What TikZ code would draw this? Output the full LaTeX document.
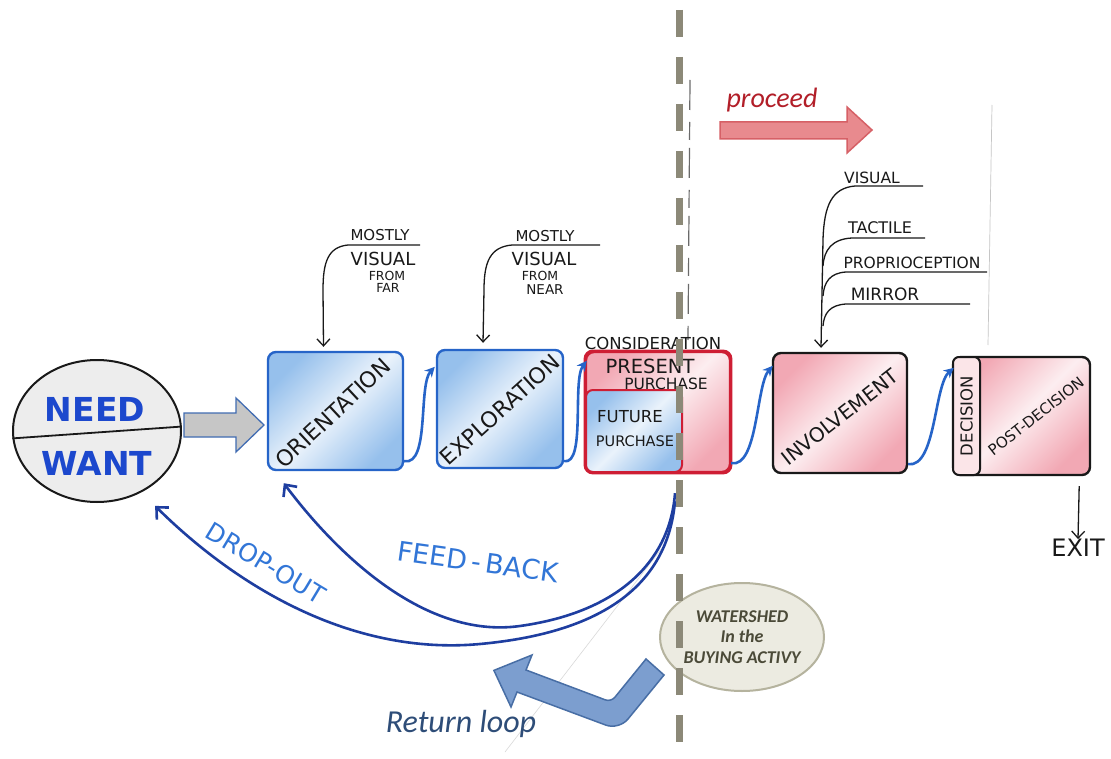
\documentclass[tikz,border=0pt]{standalone}
\usepackage{fontspec}
\setmainfont{DejaVu Sans}
\newfontfamily\typed{Carlito}
\usetikzlibrary{arrows.meta,calc,shapes.geometric}

\definecolor{penblue}{RGB}{38,100,200}
\definecolor{darkpen}{RGB}{30,62,160}
\definecolor{needblue}{RGB}{28,72,205}
\definecolor{feedblue}{RGB}{50,118,215}
\definecolor{boxblue}{RGB}{150,192,236}
\definecolor{boxpink}{RGB}{242,168,180}
\definecolor{penred}{RGB}{206,30,52}
\definecolor{ink}{RGB}{25,25,25}
\definecolor{dashgray}{RGB}{140,137,120}
\definecolor{proceedfill}{RGB}{232,138,142}
\definecolor{proceededge}{RGB}{214,96,102}
\definecolor{proceedtext}{RGB}{178,30,40}
\definecolor{shedfill}{RGB}{236,235,225}
\definecolor{shededge}{RGB}{181,179,158}
\definecolor{shedtext}{RGB}{75,74,56}
\definecolor{loopfill}{RGB}{124,158,207}
\definecolor{loopedge}{RGB}{72,110,165}
\definecolor{looptext}{RGB}{46,77,120}

\begin{document}
\begin{tikzpicture}[x=1pt,y=-1pt,
  hand/.style={font=\fontsize{#1}{#1}\selectfont, text=ink, inner sep=0pt},
  stagebox/.style={rounded corners=8pt, line width=2.4pt, inner sep=0pt},
  bluefill/.style={top color=boxblue, bottom color=boxblue, middle color=white!80!boxblue, shading angle=45},
  pinkfill/.style={top color=boxpink, bottom color=boxpink, middle color=white!80!boxpink, shading angle=45},
  flow/.style={penblue, line width=2.6pt, -{Stealth[length=10pt,width=10pt]}},
  loopback/.style={darkpen, line width=2.6pt, -{Straight Barb[length=9pt,width=17pt]}},
  note/.style={ink, line width=1.3pt},
  notearrow/.style={ink, line width=1.3pt, -{Straight Barb[length=7pt,width=13pt]}},
]
\useasboundingbox (0,0) rectangle (1111,759);
\fill[white] (0,0) rectangle (1111,759);

% faint paper edges and the pencil line beside the watershed
\draw[gray!45, line width=0.7pt] (992,105) -- (988,345);
\draw[gray!30, line width=0.6pt] (505,752) -- (662,548);
\draw[ink!65, line width=1.2pt, dash pattern=on 30pt off 12pt on 18pt off 8pt] (690,80) -- (688,340);

% need / want sphere
\node[ellipse, draw=ink, line width=2pt, fill=gray!14, minimum width=168, minimum height=142, inner sep=0pt] (need) at (97,431) {};
\draw[ink, line width=1.8pt] (need.185) -- (need.3);
\node[hand=33, text=needblue, font=\bfseries\fontsize{33}{33}\selectfont] (needlbl) at (95,409) {NEED};
\node[hand=33, text=needblue, font=\bfseries\fontsize{33}{33}\selectfont] (wantlbl) at (97,463) {WANT};

% entry arrow into orientation
\draw[fill=gray!45, draw=penblue!70!gray, line width=1.3pt]
  (184,413) -- (236,413) -- (236,398) -- (264,425) -- (236,452) -- (236,437) -- (184,437) -- cycle;

% stage boxes
\node[stagebox, draw=penblue, bluefill, minimum width=135, minimum height=118] (orient) at (335.5,411) {};
\node[stagebox, draw=penblue, bluefill, minimum width=126, minimum height=118] (explor) at (500,409) {};
\node[stagebox, draw=penred, pinkfill, minimum width=144, minimum height=120] (consid) at (658,412) {};
\node[draw=penred, line width=2pt, bluefill, rounded corners=7pt, minimum width=96, minimum height=82, inner sep=0pt] (future) at (634,431) {};
\draw[penred, line width=2.4pt, rounded corners=8pt] (consid.north west) rectangle (consid.south east);
\node[stagebox, draw=ink, pinkfill, minimum width=134, minimum height=120] (invol) at (840,413) {};
\node[stagebox, draw=ink, pinkfill, minimum width=137, minimum height=118] (dec) at (1021.5,416) {};
\node[draw=ink, line width=2pt, rounded corners=6pt, fill=white!70!boxpink, minimum width=27, minimum height=118, inner sep=0pt] (decstrip) at (966.5,416) {};

% box labels
\node[hand=22, rotate=43] (orientlbl) at (333,413) {ORIENTATION};
\node[hand=22, rotate=42] (explorlbl) at (500,410) {EXPLORATION};
\node[hand=16.5] (considlbl) at (653,343) {CONSIDERATION};
\node[hand=19.5] (presentlbl) at (650,366) {PRESENT};
\node[hand=15.5] (purchlbl) at (666,384) {PURCHASE};
\node[hand=16.5] (futurelbl) at (630,417) {FUTURE};
\node[hand=14.5] (purchlblb) at (635,441) {PURCHASE};
\node[hand=20, rotate=38] (invollbl) at (840,417) {INVOLVEMENT};
\node[hand=16.5, rotate=90] (declbl) at (decstrip) {DECISION};
\node[hand=15, rotate=38] (postlbl) at (1036,416) {POST-DECISION};

% flow between stages
\draw[flow] ($(orient.south east)+(0,-10)$) .. controls (430,466) and (418,385) .. ($(explor.north west)+(-1,18)$);
\draw[flow] ($(explor.south east)+(0,-8)$) .. controls (586,465) and (572,380) .. ($(consid.north west)+(2,10)$);
\draw[flow] ($(consid.south east)+(0,-10)$) .. controls (758,468) and (756,385) .. ($(invol.north west)+(1,14)$);
\draw[flow] ($(invol.south east)+(0,-10)$) .. controls (936,468) and (934,385) .. ($(dec.north west)+(2,12)$);

% exit
\node[hand=24] (exitlbl) at (1078,548) {EXIT};
\draw[notearrow] ($(dec.south east)+(-12,10)$) -- (exitlbl.north);

% sensory notes above orientation / exploration
\node[hand=15] (m1) at (380,235) {MOSTLY};
\node[hand=18] (v1) at (383,259) {VISUAL};
\node[hand=12.5] (f1) at (387,276) {FROM};
\node[hand=12.5] (far) at (388,288) {FAR};
\draw[notearrow] (420,245) -- (348,245) .. controls (328,247) and (323,262) .. (323,290) -- ($(orient.north)+(-12,-4)$);

\node[hand=15] (m2) at (545,236) {MOSTLY};
\node[hand=18] (v2) at (544,259) {VISUAL};
\node[hand=12.5] (f2) at (540,276) {FROM};
\node[hand=13.5] (near) at (545,290) {NEAR};
\draw[notearrow] (600,245) -- (512,245) .. controls (490,247) and (484,262) .. (484,290) -- ($(explor.north)+(-17,-6)$);

% sensory notes above involvement
\node[hand=15.5] (sv) at (872,178) {VISUAL};
\node[hand=16] (st) at (880,228) {TACTILE};
\node[hand=15.5] (sp) at (912,263) {PROPRIOCEPTION};
\node[hand=17] (sm) at (885,294) {MIRROR};
\draw[notearrow] (923,186) -- (855,186) .. controls (832,188) and (824,205) .. (823,240) -- ($(invol.north)+(-19,-4)$);
\draw[note] (925,238) -- (852,238) .. controls (832,239) and (824,250) .. (823,266);
\draw[note] (987,272) -- (846,272) .. controls (830,273) and (824,282) .. (823,296);
\draw[note] (970,304) -- (846,304) .. controls (830,305) and (824,313) .. (823,326);

% feed-back and drop-out loops
\draw[loopback] ($(consid.south)+(17,20)$) .. controls (670,560) and (620,612) .. (520,626)
   .. controls (420,640) and (330,545) .. ($(orient.south west)+(17,12)$);
\draw[loopback] ($(consid.south)+(17,28)$) .. controls (668,580) and (610,632) .. (480,644)
   .. controls (350,656) and (235,585) .. ($(need.south east)+(-2,24)$);
\node[hand=27, text=feedblue, rotate=-8] (fblbl) at (478,562) {FEED\,-\,BACK};
\node[hand=25, text=feedblue, rotate=-31] (dolbl) at (266,563) {DROP-OUT};

% watershed note
\node[ellipse, draw=shededge, fill=shedfill, line width=2pt, minimum width=164, minimum height=108, inner sep=0pt] (shed) at (742,637) {};
\node[font=\typed\bfseries\itshape\fontsize{18}{20.5}\selectfont, text=shedtext, align=center, inner sep=0pt] (shedlbl) at (742,637) {WATERSHED\\In the\\BUYING ACTIVY};

% return loop arrow
\draw[fill=loopfill, draw=loopedge, line width=1.5pt]
  (664,675) [rounded corners=14pt] -- (619,730) [sharp corners] -- (517,692)
  -- (511,707) -- (493.9,670.4) -- (532,655) -- (526,670)
  [rounded corners=6pt] -- (611,702) [sharp corners] -- (646,659) -- cycle;
\node[font=\typed\itshape\fontsize{32}{32}\selectfont, text=looptext, inner sep=0pt] (retlbl) at (461,724) {Return loop};

% watershed line
\draw[dashgray, line width=7pt, dash pattern=on 27pt off 20pt] (679,10) -- (679,759);

% proceed arrow
\draw[fill=proceedfill, draw=proceededge, line width=1.5pt]
  (720,122) -- (847,122) -- (847,107) -- (872,130) -- (847,153) -- (847,139) -- (720,139) -- cycle;
\node[font=\typed\itshape\fontsize{28}{28}\selectfont, text=proceedtext, inner sep=0pt] (proclbl) at (772,100) {proceed};

\end{tikzpicture}
\end{document}
